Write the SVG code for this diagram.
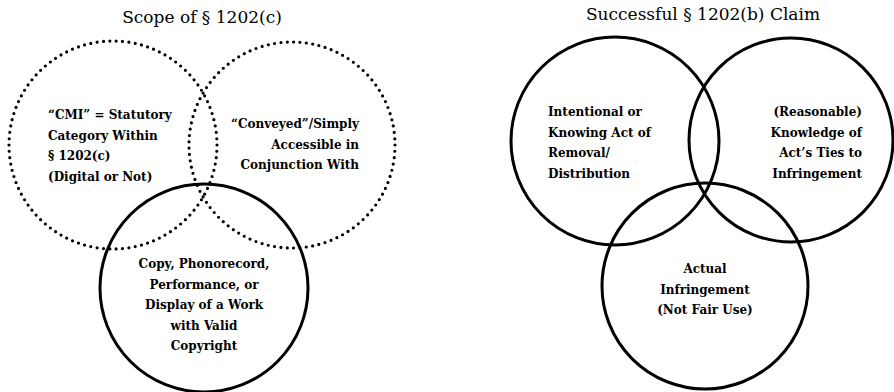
<svg xmlns="http://www.w3.org/2000/svg" width="894" height="392" viewBox="0 0 894 392">
  <style>
    .title { font-family: "DejaVu Serif", "Liberation Serif", serif; font-size: 17px; fill: #000; text-anchor: middle; }
    .lbl { font-family: "DejaVu Serif", "Liberation Serif", serif; font-size: 12px; font-weight: bold; fill: #000; }
    .solid { fill: none; stroke: #000; stroke-width: 3; }
    .dotted { fill: none; stroke: #000; stroke-width: 3.2; stroke-linecap: round; stroke-dasharray: 0 6.4; }
    .mid { text-anchor: middle; }
    .end { text-anchor: end; }
  </style>
  <rect width="894" height="392" fill="#fff"/>

  <!-- Left diagram: scope of section 1202(c) -->
  <text class="title" x="202" y="23">Scope of § 1202(c)</text>
  <g id="cmi">
    <circle class="dotted" cx="113" cy="145" r="104"/>
    <text class="lbl" x="48" y="119">“CMI” = Statutory</text>
    <text class="lbl" x="48" y="139.5">Category Within</text>
    <text class="lbl" x="48" y="160">§ 1202(c)</text>
    <text class="lbl" x="48" y="180.5">(Digital or Not)</text>
  </g>
  <g id="conveyed">
    <circle class="dotted" cx="292" cy="145" r="103"/>
    <text class="lbl end" x="359" y="128">“Conveyed”/Simply</text>
    <text class="lbl end" x="359" y="148.5">Accessible in</text>
    <text class="lbl end" x="359" y="169">Conjunction With</text>
  </g>
  <g id="work">
    <circle class="solid" cx="204" cy="288" r="104"/>
    <text class="lbl mid" x="204" y="268">Copy, Phonorecord,</text>
    <text class="lbl mid" x="204" y="288.5">Performance, or</text>
    <text class="lbl mid" x="204" y="309">Display of a Work</text>
    <text class="lbl mid" x="204" y="329.5">with Valid</text>
    <text class="lbl mid" x="204" y="350">Copyright</text>
  </g>

  <!-- Right diagram: elements of a section 1202(b) claim -->
  <text class="title" x="703" y="20">Successful § 1202(b) Claim</text>
  <g id="act">
    <circle class="solid" cx="615" cy="141" r="104"/>
    <text class="lbl" x="548" y="116">Intentional or</text>
    <text class="lbl" x="548" y="137">Knowing Act of</text>
    <text class="lbl" x="548" y="157">Removal/</text>
    <text class="lbl" x="548" y="177.5">Distribution</text>
  </g>
  <g id="knowledge">
    <circle class="solid" cx="791" cy="140" r="102"/>
    <text class="lbl end" x="862" y="116">(Reasonable)</text>
    <text class="lbl end" x="862" y="137">Knowledge of</text>
    <text class="lbl end" x="862" y="157">Act’s Ties to</text>
    <text class="lbl end" x="862" y="177.5">Infringement</text>
  </g>
  <g id="infringement">
    <circle class="solid" cx="705" cy="286" r="103"/>
    <text class="lbl mid" x="705" y="273">Actual</text>
    <text class="lbl mid" x="705" y="293.5">Infringement</text>
    <text class="lbl mid" x="705" y="314">(Not Fair Use)</text>
  </g>

  <g id="connectors"/>
</svg>
